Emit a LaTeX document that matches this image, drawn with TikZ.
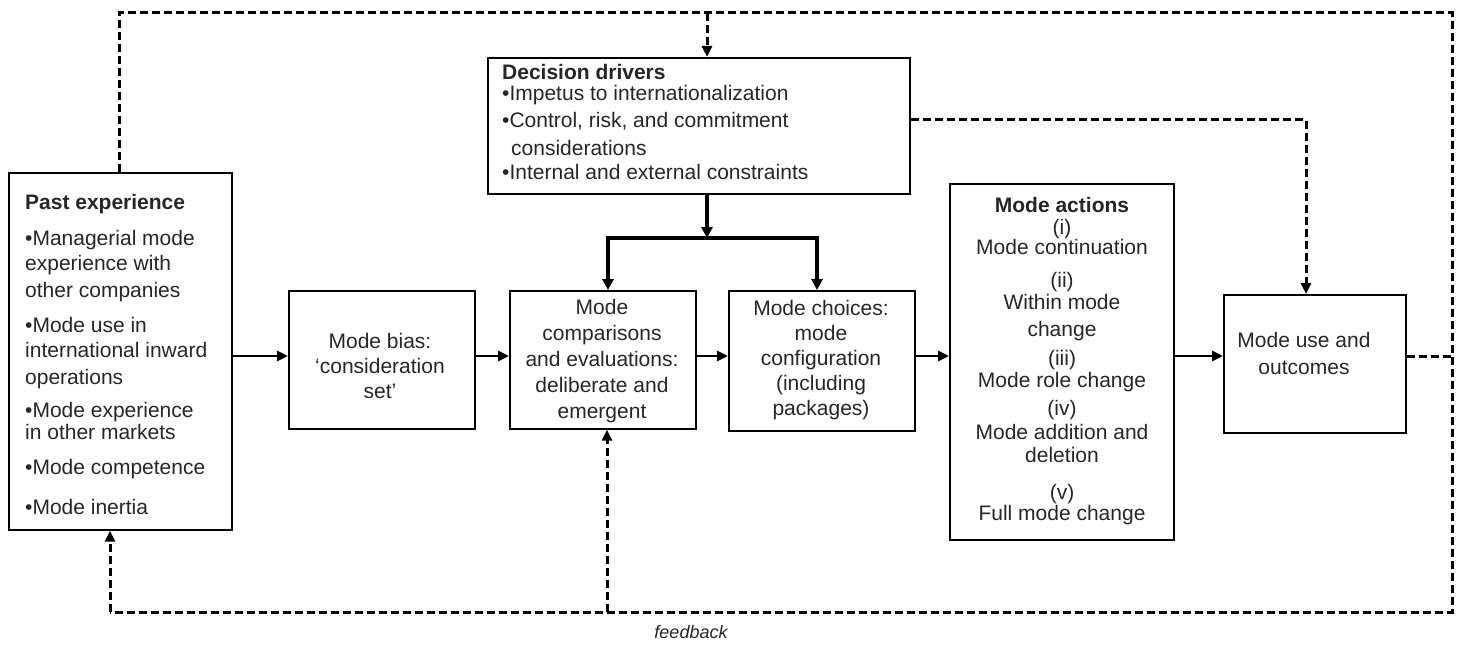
\documentclass[tikz,border=0pt]{standalone}
\usepackage{fontspec}
\setmainfont{Liberation Sans}
\usetikzlibrary{arrows.meta}
\newcommand\boxfont{\fontsize{21}{25}\selectfont\lineskiplimit=-30pt\lineskip=0pt}
\newcommand\actfont{\fontsize{21}{20}\selectfont\lineskiplimit=-30pt\lineskip=0pt}
\newcommand\decfont{\fontsize{21}{24}\selectfont\lineskiplimit=-30pt\lineskip=0pt}
\tikzset{
  box/.style={draw, line width=1.7pt, inner sep=0pt, anchor=north west},
  txt/.style={inner sep=0pt, font=\boxfont, text=black!85},
  arr/.style={line width=2.8pt, -{Triangle[length=11pt,width=10pt]}},
  tarr/.style={line width=4pt, -{Triangle[length=11pt,width=11pt]}},
  fb/.style={line width=3pt, dash pattern=on 8pt off 4pt},
  fbarr/.style={fb, -{Triangle[length=11pt,width=10pt]}},
}
\begin{document}
\begin{tikzpicture}[x=1pt,y=-1pt]
\useasboundingbox (0,0) rectangle (1461,647);
% boxes
\node[box, minimum width=223pt, minimum height=357pt] (past) at (8,172) {};
\node[box, minimum width=186pt, minimum height=138pt] (bias) at (288,290) {};
\node[box, minimum width=186pt, minimum height=138pt] (comp) at (509,290) {};
\node[box, minimum width=186pt, minimum height=140pt] (choice) at (728,290) {};
\node[box, minimum width=224pt, minimum height=356pt] (act) at (949,183) {};
\node[box, minimum width=182pt, minimum height=138pt] (use) at (1223,294) {};
\node[box, minimum width=422pt, minimum height=136pt] (dec) at (487,57) {};
% texts
\node[txt, anchor=north west, align=left] (pastT) at (25,194)
  {\textbf{Past experience}\\[11pt]•Managerial mode\\ experience with\\[2pt] other companies\\[10pt]•Mode use in\\ international inward\\[2pt] operations\\[8pt]•Mode experience\\[-3pt] in other markets\\[10pt]•Mode competence\\[15pt]•Mode inertia};
\node[txt, font=\decfont, anchor=north west, align=left] (decT) at (502,64)
  {\textbf{Decision drivers}\\[-3pt]•Impetus to internationalization\\[3pt]•Control, risk, and commitment\\[4pt]\hspace*{9pt}considerations\\•Internal and external constraints};
\node[txt, font=\actfont, anchor=north, align=center] (actT) at (1062,197)
  {\textbf{Mode actions}\\[2pt](i)\\Mode continuation\\[13pt](ii)\\[2pt]Within mode\\[7pt]change\\[9pt](iii)\\[2pt]Mode role change\\[8pt](iv)\\[4pt]Mode addition and\\[3pt]deletion\\[17pt](v)\\[1pt]Full mode change};
\node[txt, align=center] (useT) at (1304,353) {Mode use and\\[2pt]outcomes};
\node[txt, align=center] (biasT) at (380,366) {Mode bias:\\‘consideration\\set’};
\node[txt, align=center] (compT) at (602,361) {Mode\\[1pt]comparisons\\[1pt]and evaluations:\\[1pt]deliberate and\\[1pt]emergent};
\node[txt, align=center] (choiceT) at (821,360) {Mode choices:\\mode\\configuration\\(including\\packages)};
\node[inner sep=0pt, font=\fontsize{18}{20}\selectfont\itshape, text=black!85] (fbT) at (691,632) {feedback};
% main flow
\coordinate (row) at (0,356);
\draw[arr] (past.east |- row) -- (bias.west |- row);
\draw[arr] (bias.east |- row) -- (comp.west |- row);
\draw[arr] (comp.east |- row) -- (choice.west |- row);
\draw[arr] (choice.east |- row) -- (act.west |- row);
\draw[arr] (act.east |- row) -- (use.west |- row);
% decision drivers branching
\coordinate (junc) at (707,238);
\coordinate (bl) at (608,238);
\coordinate (br) at (817,238);
\draw[tarr] (dec.south -| junc) -- (junc);
\draw[tarr] (junc) -| (comp.north -| bl);
\draw[tarr] (junc) -| (choice.north -| br);
% feedback loops
\coordinate (tl) at (119,13);
\coordinate (tm) at (707,13);
\coordinate (tr) at (1452,13);
\coordinate (brc) at (1452,612);
\coordinate (bm) at (607,612);
\coordinate (blc) at (110,612);
\coordinate (dr) at (1306,120);
\draw[fb] (past.north -| tl) -- (tl) -- (tr) -- (brc) -- (blc);
\draw[fbarr] (blc) -- (past.south -| blc);
\draw[fbarr] (tm) -- (dec.north -| tm);
\draw[fbarr] (bm) -- (comp.south -| bm);
\draw[fbarr] (dec.east |- dr) -| (use.north -| dr);
\draw[fb] (use.east |- row) -- (tr |- row);
\end{tikzpicture}
\end{document}
